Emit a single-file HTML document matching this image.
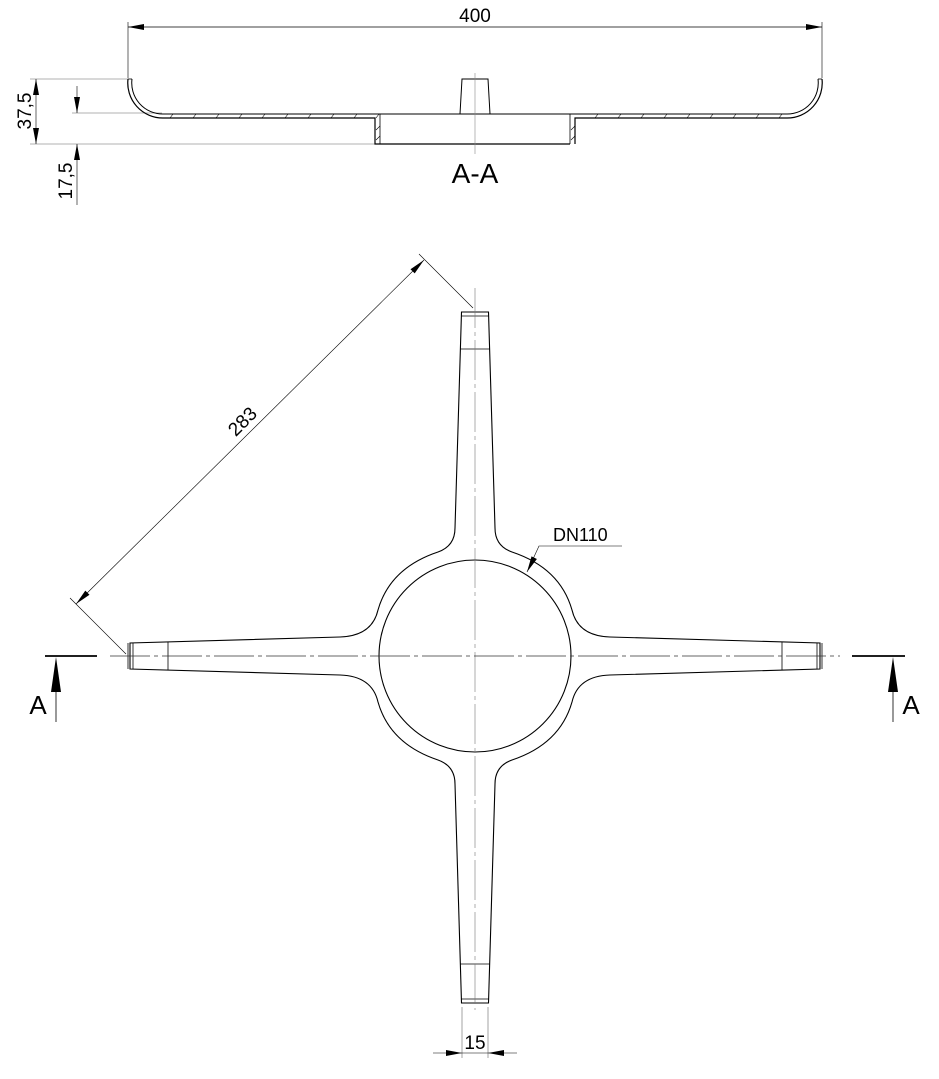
<!DOCTYPE html>
<html><head><meta charset="utf-8"><style>
html,body{margin:0;padding:0;background:#fff;}
svg{display:block;}
text{font-family:"Liberation Sans",Arial,sans-serif;fill:#000;}
</style></head><body>
<svg width="939" height="1079" viewBox="0 0 939 1079" xmlns="http://www.w3.org/2000/svg">
<g fill="none" stroke="#000" stroke-width="0.8">
<!-- TOP SECTION -->
<line x1="128" y1="27" x2="822" y2="27" stroke-width="0.7"/>
<line x1="128" y1="22" x2="128" y2="78" stroke-width="0.6"/>
<line x1="822" y1="22" x2="822" y2="78" stroke-width="0.6"/>
<line x1="30" y1="79" x2="128" y2="79" stroke="#666" stroke-width="0.6"/>
<line x1="30" y1="144" x2="375" y2="144" stroke="#666" stroke-width="0.6"/>
<line x1="72" y1="113" x2="162" y2="113" stroke="#666" stroke-width="0.6"/>
<line x1="36" y1="79" x2="36" y2="144" stroke-width="0.6"/>
<line x1="77" y1="86" x2="77" y2="113" stroke-width="0.6"/>
<line x1="77" y1="205" x2="77" y2="144" stroke-width="0.6"/>
<!-- profile left -->
<path d="M128,79 A35,35 0 0 0 163,118 L375,118 L375,144 L570,144" stroke-width="1.2"/>
<path d="M132,79 A31,31 0 0 0 163,114 L380,114" stroke-width="1"/>
<line x1="128" y1="79" x2="132" y2="79"/>
<path d="M380,114 L380,144" stroke-width="0.8"/>
<!-- profile right -->
<path d="M822,79 A35,35 0 0 1 787,118 L575,118 L575,144" stroke-width="1.2"/>
<path d="M818,79 A31,31 0 0 1 787,114 L380,114" stroke-width="1"/>
<line x1="818" y1="79" x2="822" y2="79"/>
<line x1="570" y1="114" x2="570" y2="144"/>
<g stroke-width="0.6">
<path d="M170,118 l3,-4 M193,118 l3,-4 M216,118 l3,-4 M239,118 l3,-4 M262,118 l3,-4 M285,118 l3,-4 M308,118 l3,-4 M331,118 l3,-4 M354,118 l3,-4 M376,118 l3,-4 M376,140 l4,-4 M376,130 l4,-4"/>
<path d="M595,118 l3,-4 M618,118 l3,-4 M641,118 l3,-4 M664,118 l3,-4 M687,118 l3,-4 M710,118 l3,-4 M733,118 l3,-4 M756,118 l3,-4 M779,118 l3,-4 M571,140 l4,-4 M571,130 l4,-4"/>
</g>
<path d="M460,114 L462,79 L488,79 L490,114" stroke-width="1"/>
<line x1="475" y1="73" x2="475" y2="154" stroke="#888" stroke-width="0.6"/>

<!-- PLAN VIEW -->
<path stroke-width="1.1" d="
M461.5,312 L455,528 Q455,546 438,552 Q390,568 378,610 Q372,636 340,637
L130,643 L130,669 L340,675 Q372,676 378,702 Q390,744 438,760 Q455,766 455,784
L461.5,1003 L488.5,1003 L495,784 Q495,766 512,760 Q560,744 572,702 Q578,676 610,675
L820,669 L820,643 L610,637 Q578,636 572,610 Q560,568 512,552 Q495,546 495,528
L488.5,312 Z"/>
<circle cx="475" cy="656" r="96" stroke-width="1.1"/>
<line x1="461.5" y1="316" x2="488.5" y2="316"/>
<line x1="460.5" y1="349" x2="489.5" y2="349"/>
<line x1="461.5" y1="999" x2="488.5" y2="999"/>
<line x1="460.5" y1="964" x2="489.5" y2="964"/>
<line x1="128" y1="643" x2="128" y2="669"/>
<line x1="133" y1="643" x2="133" y2="669"/>
<line x1="168" y1="642" x2="168" y2="670"/>
<line x1="822" y1="643" x2="822" y2="669"/>
<line x1="817" y1="643" x2="817" y2="669"/>
<line x1="782" y1="642" x2="782" y2="670"/>
<line x1="475" y1="288" x2="475" y2="1010" stroke="#777" stroke-width="0.6" stroke-dasharray="40,4,4,4"/>
<line x1="110" y1="656" x2="840" y2="656" stroke="#333" stroke-width="0.8" stroke-dasharray="40,4,4,4"/>
<line x1="45" y1="656" x2="97" y2="656" stroke-width="1.8"/>
<line x1="56" y1="722" x2="56" y2="670" stroke-width="0.8"/>
<line x1="852" y1="656" x2="905" y2="656" stroke-width="1.8"/>
<line x1="893" y1="722" x2="893" y2="670" stroke-width="0.8"/>
<line x1="126" y1="654" x2="70" y2="598" stroke-width="0.6"/>
<line x1="473" y1="308" x2="419" y2="254" stroke-width="0.6"/>
<line x1="76" y1="604" x2="424" y2="260" stroke-width="0.6"/>
<polyline points="527,572 539,546 622,546" stroke-width="0.6"/>
<line x1="462" y1="1007" x2="462" y2="1058" stroke="#666" stroke-width="0.6"/>
<line x1="488" y1="1007" x2="488" y2="1058" stroke="#666" stroke-width="0.6"/>
<line x1="433" y1="1053" x2="517" y2="1053" stroke-width="0.6"/>
</g>
<g fill="#000" stroke="none">
<polygon points="128,27 144,24 144,30"/>
<polygon points="822,27 806,24 806,30"/>
<polygon points="36,79 33,95 39,95"/>
<polygon points="36,144 33,128 39,128"/>
<polygon points="77,113 74,97 80,97"/>
<polygon points="77,144 74,160 80,160"/>
<polygon points="56,657 51,692 61,692"/>
<polygon points="893,657 888,692 898,692"/>
<polygon points="76,604 89.5,594.8 85.3,590.6"/>
<polygon points="424,260 414.7,273.4 410.5,269.2"/>
<polygon points="527,572 536.9,559 531.5,556.4"/>
<polygon points="462,1053 446,1050 446,1056"/>
<polygon points="488,1053 504,1050 504,1056"/>
</g>
<g font-size="19">
<text x="475" y="22" text-anchor="middle">400</text>
<text x="0" y="0" text-anchor="middle" transform="translate(31,111) rotate(-90)">37,5</text>
<text x="0" y="0" text-anchor="middle" transform="translate(72,181) rotate(-90)">17,5</text>
<text x="475" y="183" text-anchor="middle" font-size="28">A-A</text>
<text x="0" y="0" text-anchor="middle" transform="translate(247,426) rotate(-45)">283</text>
<text x="553" y="541" font-size="18">DN110</text>
<text x="475" y="1049" text-anchor="middle">15</text>
<text x="38" y="714" text-anchor="middle" font-size="26">A</text>
<text x="911" y="714" text-anchor="middle" font-size="26">A</text>
</g>
</svg>
</body></html>
